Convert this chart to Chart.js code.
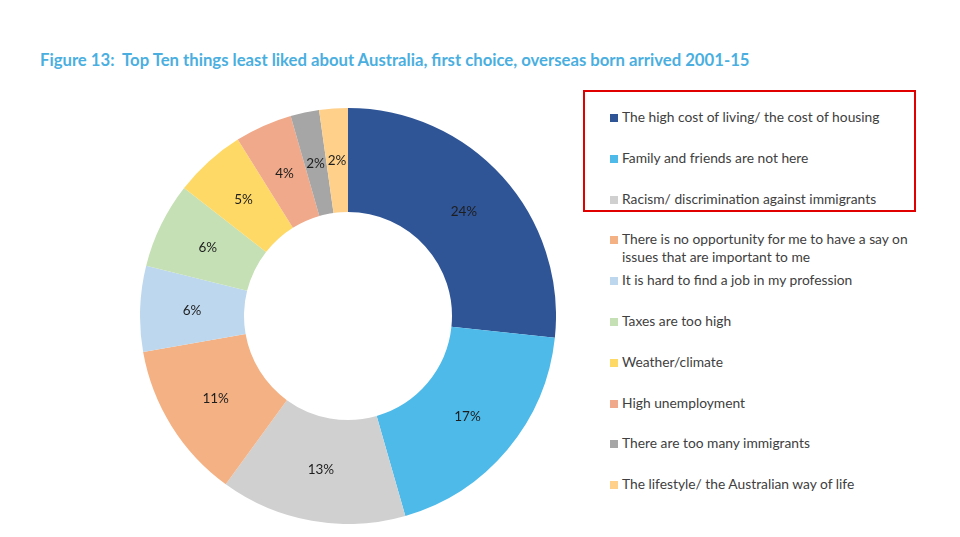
<!DOCTYPE html>
<html>
<head>
<meta charset="utf-8">
<script src="https://cdn.jsdelivr.net/npm/chart.js@4"></script>
<style>
    body { margin: 0; width: 960px; height: 537px; background: #fff; position: relative; overflow: hidden; font-family: Lato, "Open Sans", sans-serif; }
    .title { position: absolute; left: 40px; top: 50px; font-size: 16.7px; font-weight: bold; color: #4aafe0; white-space: pre; }
    .chart-box { position: absolute; left: 140px; top: 108px; width: 416px; height: 416px; }
    .highlight { position: absolute; left: 583px; top: 90px; width: 329px; height: 118px; border: 2px solid #e00000; }
    .legend { position: absolute; left: 610px; top: 108px; width: 320px; }
    .legend-item { position: relative; height: 40.8px; font-size: 13.8px; color: #404040; line-height: 18px; }
    .legend-item .swatch { position: absolute; left: 0; top: 6px; width: 8px; height: 8px; }
    .legend-item .text { position: absolute; left: 12px; top: 0; width: 300px; }
</style>
</head>
<body>
<div class="title">Figure 13:  Top Ten things least liked about Australia, first choice, overseas born arrived 2001-15</div>
<div class="highlight"></div>
<div class="chart-box"><canvas id="donut"></canvas></div>
<div class="legend" id="legend"></div>

<script>
const categories = [
    'The high cost of living/ the cost of housing',
    'Family and friends are not here',
    'Racism/ discrimination against immigrants',
    'There is no opportunity for me to have a say on issues that are important to me',
    'It is hard to find a job in my profession',
    'Taxes are too high',
    'Weather/climate',
    'High unemployment',
    'There are too many immigrants',
    'The lifestyle/ the Australian way of life'
];
const shares = [24, 17, 13, 11, 6, 6, 5, 4, 2, 2];
const sliceColors = ['#2f5597', '#4dbaea', '#d0d0d0', '#f4b183', '#bdd7ee', '#c5e0b4', '#ffd966', '#f0a98a', '#a6a6a6', '#ffd08a'];

// Percent labels drawn in the middle of each ring segment
const sliceLabels = {
    id: 'sliceLabels',
    afterDatasetsDraw(chart) {
        const ctx = chart.ctx;
        const meta = chart.getDatasetMeta(0);
        ctx.save();
        ctx.font = '13.5px Lato, "Open Sans", sans-serif';
        ctx.fillStyle = '#1e1e1e';
        ctx.textAlign = 'center';
        ctx.textBaseline = 'middle';
        meta.data.forEach((arc, i) => {
            const pos = arc.tooltipPosition();
            ctx.fillText(shares[i] + '%', pos.x, pos.y);
        });
        ctx.restore();
    }
};

const chart = new Chart(document.getElementById('donut'), {
    type: 'doughnut',
    data: {
        labels: categories,
        datasets: [{
            data: shares,
            backgroundColor: sliceColors,
            borderWidth: 0
        }]
    },
    options: {
        responsive: true,
        maintainAspectRatio: false,
        animation: false,
        cutout: '50%',
        layout: { padding: 0 },
        plugins: {
            legend: { display: false },
            tooltip: { enabled: false }
        }
    },
    plugins: [sliceLabels]
});

// Build the legend from the chart's own label items
const legendEl = document.getElementById('legend');
chart.options.plugins.legend.labels.generateLabels(chart).forEach(item => {
    const row = document.createElement('div');
    row.className = 'legend-item';
    const swatch = document.createElement('span');
    swatch.className = 'swatch';
    swatch.style.background = item.fillStyle;
    const text = document.createElement('span');
    text.className = 'text';
    text.textContent = item.text;
    row.appendChild(swatch);
    row.appendChild(text);
    legendEl.appendChild(row);
});
</script>
</body>
</html>
